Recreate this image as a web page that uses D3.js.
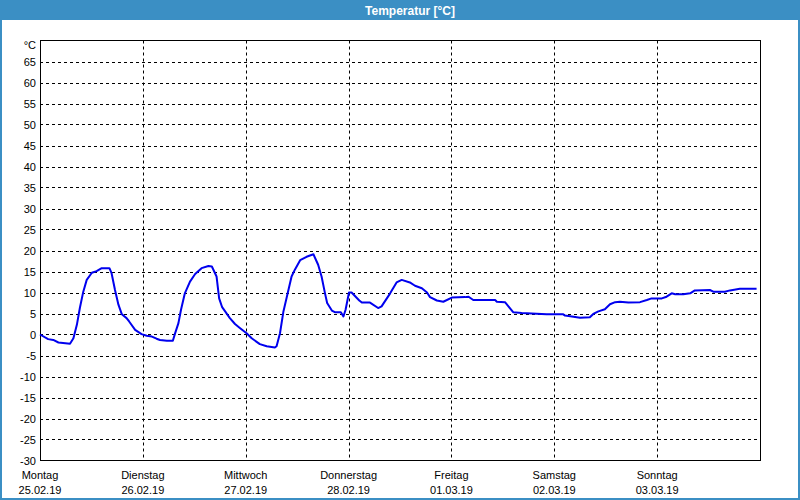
<!DOCTYPE html>
<html>
<head>
<meta charset="utf-8">
<script src="https://cdn.jsdelivr.net/npm/d3@7"></script>
<style>
  html, body { margin: 0; padding: 0; background: #fff; }
  svg { display: block; font-family: "Liberation Sans", Arial, sans-serif; }
</style>
</head>
<body>
<div id="chart"></div>
<script>
// DATA: hours since Mo 25.02.19 00:00, temperature in °C
const hours = [0, 1.9, 3.1, 4.3, 7.0, 7.8, 8.6, 9.3, 10.1, 10.9, 12.1, 13.2, 14.4, 16.2, 16.7, 17.5, 18.3, 19.1, 20.2, 20.8, 22.2, 23.7,
  24.9, 26.1, 27.2, 28, 29.6, 31.0, 31.5, 32.3, 32.9, 33.8, 35, 36.2, 37.7, 39.3, 40.1, 41.2, 41.8, 42.5, 43.2, 44.3, 45.5, 46.7,
  48.2, 49.4, 51.3, 52.9, 54.8, 55.2, 56, 56.8, 57.6, 58.7, 59.5, 60.7, 62.2, 63.8, 64.9, 65.7, 66.5, 67.0, 68.1, 68.8, 70.2, 70.8, 71.3,
  72.1, 72.7, 74.5, 75.1, 77, 78.9, 79.7, 81.7, 83.2, 84.4, 86.3, 87.5, 89.1, 90.3, 91, 92.6, 94.1,
  96.1, 99.2, 100, 101.1, 106.2, 106.6, 108.5, 109.3, 110.4, 112.4, 118.2,
  122.1, 122.5, 124.1, 126, 128.3, 129.1, 130.3, 131.8, 133, 134.2, 135.3, 137.3, 140, 141.6, 142.7,
  145.1, 146.2, 147.4, 148.2, 150.1, 151.7, 152.8, 156.3, 157.1, 159.8, 161, 163.3, 167.2];
const temps = [0, -1.1, -1.3, -1.9, -2.2, -0.9, 2.3, 6.3, 10.2, 13, 14.7, 15.1, 15.8, 15.8, 14.6, 10.6, 7.1, 4.8, 3.9, 3.1, 1.1, 0.1,
  -0.3, -0.5, -1, -1.3, -1.5, -1.5, 0.2, 2.7, 5.9, 9.8, 12.6, 14.4, 15.8, 16.3, 16.2, 13.8, 8.6, 6.5, 5.5, 3.9, 2.5, 1.5,
  0.3, -0.9, -2.3, -2.8, -3.1, -2.8, 0.3, 5.5, 9, 13.8, 15.5, 17.7, 18.5, 19.1, 16.6, 13.8, 9.8, 7.5, 5.7, 5.3, 5.3, 4.3, 5.9,
  10, 10, 8.1, 7.6, 7.6, 6.3, 6.7, 9.8, 12.4, 13, 12.4, 11.6, 11, 10, 8.9, 8.1, 7.8,
  8.8, 8.9, 9, 8.2, 8.2, 7.8, 7.7, 6.7, 5.3, 5.1, 4.8,
  4.8, 4.5, 4.3, 4.0, 4.1, 4.9, 5.5, 6, 7.2, 7.7, 7.8, 7.6, 7.7, 8.2, 8.6,
  8.6, 9, 9.8, 9.6, 9.6, 9.8, 10.5, 10.6, 10.2, 10.2, 10.5, 10.9, 10.9];

const dayNames = ["Montag", "Dienstag", "Mittwoch", "Donnerstag", "Freitag", "Samstag", "Sonntag"];
const dayDates = ["25.02.19", "26.02.19", "27.02.19", "28.02.19", "01.03.19", "02.03.19", "03.03.19"];
const yTicks = d3.range(-30, 70, 5);
const title = "Temperatur [°C]";
const unit = "°C";

const W = 800, H = 500;
const frame = "#3b8fc4";
const start = Date.UTC(2019, 1, 25);
const data = hours.map((h, i) => ({ t: new Date(start + h * 3600e3), v: temps[i] }));

const svg = d3.select("#chart").append("svg").attr("width", W).attr("height", H);

// window frame and title bar
svg.append("rect").attr("x", 1).attr("y", 1).attr("width", W - 2).attr("height", H - 2)
  .attr("fill", "#fff").attr("stroke", frame).attr("stroke-width", 2);
svg.append("rect").attr("x", 0).attr("y", 0).attr("width", W).attr("height", 20).attr("fill", frame);
svg.append("text").attr("x", 410).attr("y", 14.5).attr("text-anchor", "middle")
  .attr("fill", "#fff").attr("font-weight", "bold").attr("font-size", 12).text(title);

const pLeft = 40, pRight = 760, pTop = 40.5, pBottom = 460.5;
const x = d3.scaleUtc().domain([new Date(start), new Date(start + 7 * 864e5)]).range([pLeft, pRight]);
const y = d3.scaleLinear().domain([-30, 70]).range([pBottom, pTop]);

const g = svg.append("g");

// grid
g.selectAll(".hg").data(yTicks.filter(d => d > -30)).join("line")
  .attr("x1", pLeft).attr("x2", pRight)
  .attr("y1", d => Math.round(y(d)) + 0.5).attr("y2", d => Math.round(y(d)) + 0.5)
  .attr("stroke", "#000").attr("stroke-dasharray", "3,3");
const days = d3.utcDay.range(new Date(start), new Date(start + 7 * 864e5));
g.selectAll(".vg").data(days.slice(1)).join("line")
  .attr("x1", d => Math.round(x(d)) + 0.5).attr("x2", d => Math.round(x(d)) + 0.5)
  .attr("y1", pTop).attr("y2", pBottom)
  .attr("stroke", "#000").attr("stroke-dasharray", "3,3");

// plot box
g.append("rect").attr("x", pLeft + 0.5).attr("y", pTop).attr("width", pRight - pLeft).attr("height", pBottom - pTop)
  .attr("fill", "none").attr("stroke", "#000");

// y labels
g.selectAll(".yl").data(yTicks).join("text")
  .attr("x", 36).attr("y", d => y(d) + 4).attr("text-anchor", "end")
  .attr("font-size", 11).attr("fill", "#000").text(d => d);
g.append("text").attr("x", 36).attr("y", 49).attr("text-anchor", "end")
  .attr("font-size", 11).attr("fill", "#000").text(unit);

// x labels
const xl = g.selectAll(".xl").data(days).join("g")
  .attr("transform", d => `translate(${x(d)},0)`);
xl.append("text").attr("y", 479).attr("text-anchor", "middle").attr("font-size", 11)
  .text((d, i) => dayNames[i]);
xl.append("text").attr("y", 494).attr("text-anchor", "middle").attr("font-size", 11)
  .text((d, i) => dayDates[i]);

// line
const line = d3.line().x(d => x(d.t)).y(d => y(d.v));
g.append("path").datum(data).attr("d", line)
  .attr("fill", "none").attr("stroke", "#0000ee").attr("stroke-width", 2)
  .attr("stroke-linejoin", "round");
</script>
</body>
</html>
